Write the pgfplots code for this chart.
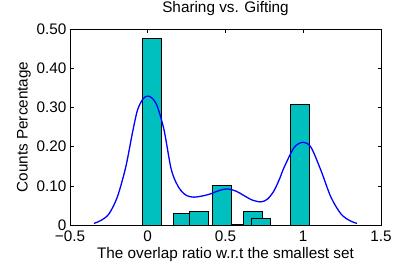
\documentclass[border=0pt]{standalone}
\usepackage{fontspec}
\setmainfont{Liberation Sans}
\usepackage{pgfplots}
\pgfplotsset{compat=1.18}
\definecolor{barc}{RGB}{0,191,191}
\begin{document}
\begin{tikzpicture}
\path (-70pt,-43pt) rectangle (323pt,225pt);
\begin{axis}[
  scale only axis, width=311pt, height=196pt,
  at={(0,0)}, anchor=south west,
  font=\fontsize{15.3}{18}\selectfont,
  xmin=-0.5, xmax=1.5, ymin=0, ymax=0.5,
  xtick={-0.5,0,0.5,1,1.5}, xticklabels={−0.5,0,0.5,1,1.5},
  ytick={0,0.1,0.2,0.3,0.4,0.5}, yticklabels={0,0.10,0.20,0.30,0.40,0.50},
  tick align=inside, major tick length=3.5pt,
  tick style={black, line width=0.6pt},
  axis line style={black, line width=0.8pt},
  xticklabel style={anchor=base, inner sep=0pt, yshift=-16.3pt},
  yticklabel style={anchor=east, inner sep=0pt, xshift=-3.3pt},
  title={Sharing vs. Gifting},
  title style={at={(axis description cs:0.5,1)}, anchor=base, yshift=10.7pt, inner sep=0pt},
  xlabel={The overlap ratio w.r.t the smallest set},
  xlabel style={at={(axis description cs:0.5,0)}, anchor=north, yshift=-22pt, inner sep=0pt},
  ylabel={Counts Percentage},
  ylabel style={at={(axis description cs:-0.125,0.5)}, anchor=south, rotate=0, inner sep=0pt},
]
\addplot[fill=barc, draw=black, line width=0.5pt] coordinates {(-0.034,0) (-0.034,0.477) (0.09,0.477) (0.09,0)} -- cycle;
\addplot[fill=barc, draw=black, line width=0.5pt] coordinates {(0.166,0) (0.166,0.031) (0.265,0.031) (0.265,0)} -- cycle;
\addplot[fill=barc, draw=black, line width=0.5pt] coordinates {(0.265,0) (0.265,0.035) (0.387,0.035) (0.387,0)} -- cycle;
\addplot[fill=barc, draw=black, line width=0.5pt] coordinates {(0.514,0) (0.514,0.002) (0.613,0.002) (0.613,0)} -- cycle;
\addplot[fill=barc, draw=black, line width=0.5pt] coordinates {(0.417,0) (0.417,0.101) (0.537,0.101) (0.537,0)} -- cycle;
\addplot[fill=barc, draw=black, line width=0.5pt] coordinates {(0.615,0) (0.615,0.035) (0.737,0.035) (0.737,0)} -- cycle;
\addplot[fill=barc, draw=black, line width=0.5pt] coordinates {(0.667,0) (0.667,0.017) (0.789,0.017) (0.789,0)} -- cycle;
\addplot[fill=barc, draw=black, line width=0.5pt] coordinates {(0.914,0) (0.914,0.308) (1.04,0.308) (1.04,0)} -- cycle;
\addplot[blue, line width=1.3pt, smooth, no markers] coordinates {
(-0.346,0.004) (-0.30,0.012) (-0.25,0.028) (-0.196,0.071) (-0.142,0.147) (-0.099,0.234) (-0.066,0.293) (-0.03,0.322) (0,0.329) (0.03,0.323) (0.062,0.302) (0.105,0.242) (0.148,0.147) (0.18,0.11) (0.213,0.088) (0.25,0.075) (0.297,0.071) (0.35,0.074) (0.40,0.079) (0.46,0.088) (0.512,0.092) (0.57,0.086) (0.619,0.075) (0.67,0.064) (0.727,0.059) (0.77,0.066) (0.813,0.088) (0.85,0.12) (0.877,0.147) (0.942,0.198) (1.0,0.211) (1.05,0.198) (1.114,0.139) (1.178,0.071) (1.243,0.028) (1.30,0.011) (1.346,0.004)};
\end{axis}
\end{tikzpicture}
\end{document}
